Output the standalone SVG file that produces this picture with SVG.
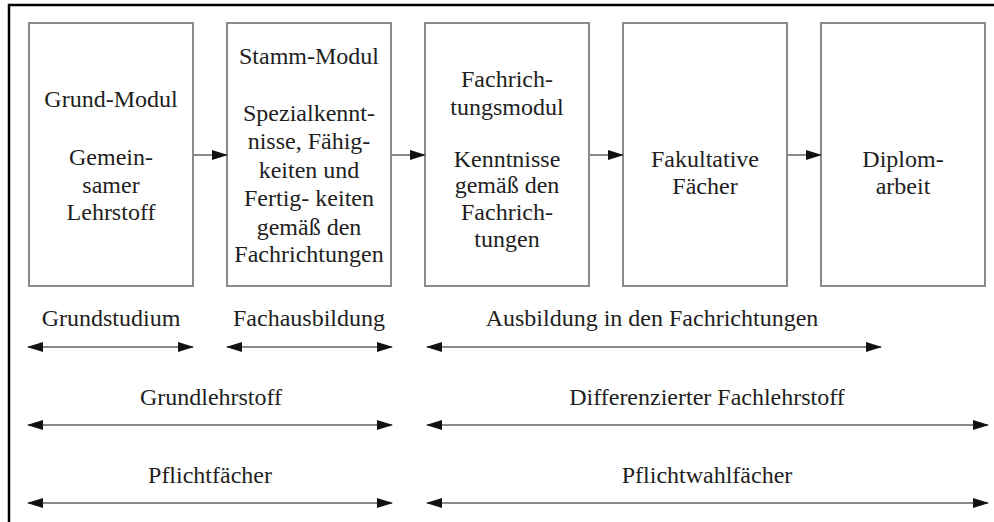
<svg xmlns="http://www.w3.org/2000/svg" width="994" height="522" viewBox="0 0 994 522">
  <style>
    .box { fill: #ffffff; stroke: #8a8a8a; stroke-width: 2; }
    .lbl { font-family: 'Liberation Serif', 'DejaVu Serif', 'Times New Roman', serif; font-size: 24px; fill: #1e1e1e; text-anchor: middle; }
    .conn { stroke: #8a8a8a; stroke-width: 2; fill: none; }
    .frame { stroke: #000000; stroke-width: 2.5; fill: none; }
  </style>
  <defs>
    <marker id="head" viewBox="0 0 16 12" refX="15" refY="6" markerWidth="16" markerHeight="12" markerUnits="userSpaceOnUse" orient="auto-start-reverse">
      <path d="M0,1 L16,6 L0,11 Z" fill="#111111"/>
    </marker>
  </defs>
  <rect x="0" y="0" width="994" height="522" fill="#ffffff"/>
  <!-- outer frame (top and left edges) -->
  <path class="frame" d="M9,522 L9,5 L994,5"/>

  <g font-family="Liberation Serif, DejaVu Serif, serif">
  <g id="grund-modul">
    <rect class="box" x="29" y="23" width="164" height="263"/>
    <text class="lbl" x="111" y="107">Grund-Modul</text>
    <text class="lbl" x="111" y="165">Gemein-</text>
    <text class="lbl" x="111" y="193">samer</text>
    <text class="lbl" x="111" y="220">Lehrstoff</text>
  </g>
  <g id="stamm-modul">
    <rect class="box" x="227" y="23" width="164" height="263"/>
    <text class="lbl" x="309" y="64">Stamm-Modul</text>
    <text class="lbl" x="309" y="121">Spezialkennt-</text>
    <text class="lbl" x="309" y="149">nisse, Fähig-</text>
    <text class="lbl" x="309" y="178">keiten und</text>
    <text class="lbl" x="309" y="206">Fertig- keiten</text>
    <text class="lbl" x="309" y="235">gemäß den</text>
    <text class="lbl" x="309" y="262">Fachrichtungen</text>
  </g>
  <g id="fachrichtungsmodul">
    <rect class="box" x="425" y="23" width="164" height="263"/>
    <text class="lbl" x="507" y="87">Fachrich-</text>
    <text class="lbl" x="507" y="115">tungsmodul</text>
    <text class="lbl" x="507" y="167">Kenntnisse</text>
    <text class="lbl" x="507" y="193">gemäß den</text>
    <text class="lbl" x="507" y="220">Fachrich-</text>
    <text class="lbl" x="507" y="247">tungen</text>
  </g>
  <g id="fakultative-faecher">
    <rect class="box" x="623" y="23" width="164" height="263"/>
    <text class="lbl" x="705" y="167">Fakultative</text>
    <text class="lbl" x="705" y="194">Fächer</text>
  </g>
  <g id="diplomarbeit">
    <rect class="box" x="821" y="23" width="164" height="263"/>
    <text class="lbl" x="903" y="167">Diplom-</text>
    <text class="lbl" x="903" y="194">arbeit</text>
  </g>

  <g id="connectors">
    <line class="conn" x1="193" y1="155" x2="227" y2="155" marker-end="url(#head)"/>
    <line class="conn" x1="391" y1="155" x2="425" y2="155" marker-end="url(#head)"/>
    <line class="conn" x1="589" y1="155" x2="623" y2="155" marker-end="url(#head)"/>
    <line class="conn" x1="787" y1="155" x2="821" y2="155" marker-end="url(#head)"/>

    <line class="conn" x1="28" y1="347" x2="193" y2="347" marker-start="url(#head)" marker-end="url(#head)"/>
    <line class="conn" x1="227" y1="347" x2="392" y2="347" marker-start="url(#head)" marker-end="url(#head)"/>
    <line class="conn" x1="427" y1="347" x2="881" y2="347" marker-start="url(#head)" marker-end="url(#head)"/>

    <line class="conn" x1="28" y1="425" x2="392" y2="425" marker-start="url(#head)" marker-end="url(#head)"/>
    <line class="conn" x1="427" y1="425" x2="988" y2="425" marker-start="url(#head)" marker-end="url(#head)"/>

    <line class="conn" x1="28" y1="503" x2="392" y2="503" marker-start="url(#head)" marker-end="url(#head)"/>
    <line class="conn" x1="427" y1="503" x2="988" y2="503" marker-start="url(#head)" marker-end="url(#head)"/>
  </g>

  <g id="span-labels">
    <text class="lbl" x="111" y="326">Grundstudium</text>
    <text class="lbl" x="309" y="326">Fachausbildung</text>
    <text class="lbl" x="652" y="326">Ausbildung in den Fachrichtungen</text>
    <text class="lbl" x="211" y="405">Grundlehrstoff</text>
    <text class="lbl" x="707" y="405">Differenzierter Fachlehrstoff</text>
    <text class="lbl" x="210" y="483">Pflichtfächer</text>
    <text class="lbl" x="707" y="483">Pflichtwahlfächer</text>
  </g>
  </g>
</svg>
